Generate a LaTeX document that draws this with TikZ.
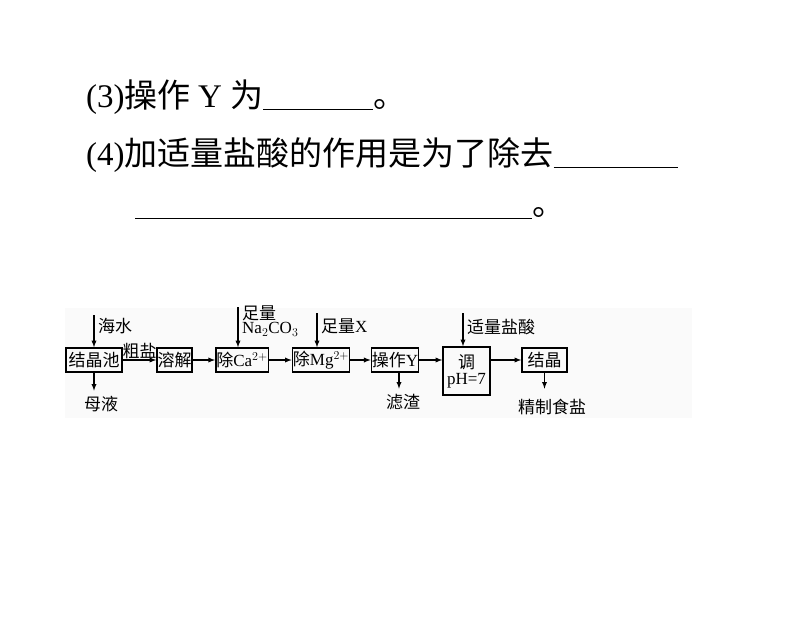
\documentclass[tikz,border=0pt]{standalone}
\usepackage{fontspec}
\setmainfont{Liberation Serif}
\newfontfamily\cjk{Noto Sans CJK SC}
\begin{document}
\begin{tikzpicture}[x=1pt,y=-1pt,
  bx/.style={draw,line width=1.4pt,minimum height=24pt,inner sep=0.5pt,font=\fontsize{17}{18}\selectfont},
  lb/.style={font=\fontsize{17}{18}\selectfont,inner sep=1pt},
  ar/.style={-latex,line width=1.3pt},
  big/.style={anchor=west,font=\fontsize{33}{35}\selectfont,inner sep=0pt}]
\useasboundingbox (0,0) rectangle (794,644);
\fill[black!2] (65,308) rectangle (692,418);
\node[big] (t3) at (86,97) {(3)\cjk 操作 \rmfamily Y \cjk 为\rule[-3pt]{110pt}{1pt}。};
\node[big] (t4) at (86,155) {(4)\cjk 加适量盐酸的作用是为了除去\rule[-3pt]{124pt}{1pt}};
\node[big] (t5) at (135,213) {\rule[-3pt]{397pt}{1pt}\cjk 。};
\node[bx,minimum width=56pt] (a) at (94,360) {\cjk 结晶池};
\node[bx,minimum width=35pt] (b) at (174.5,360) {\cjk 溶解};
\node[bx,minimum width=48pt] (c) at (242,360) {\cjk 除\rmfamily Ca$^{2+}$};
\node[bx,minimum width=52pt] (d) at (321,360) {\cjk 除\rmfamily Mg$^{2+}$};
\node[bx,minimum width=46pt] (e) at (395,360) {\cjk 操作\rmfamily Y};
\node[bx,minimum width=47pt,minimum height=48pt,align=center] (f) at (466.5,371) {\cjk 调\\[-2pt] \rmfamily pH=7};
\node[bx,minimum width=45pt] (g) at (544.5,360) {\cjk 结晶};
\draw[ar] (a) -- node[lb,above] {\cjk 粗盐} (b);
\draw[ar] (b) -- (c);
\draw[ar] (c) -- (d);
\draw[ar] (d) -- (e);
\draw[ar] (e) -- (e-|f.west);
\draw[ar] (g-|f.east) -- (g);
\coordinate (i1) at (94,315); \coordinate (i2) at (238,307);
\coordinate (i3) at (317,313); \coordinate (i4) at (463,313);
\draw[ar] (i1) -- (i1|-a.north);
\draw[ar] (i2) -- (i2|-c.north);
\draw[ar] (i3) -- (i3|-d.north);
\draw[ar] (i4) -- (i4|-f.north);
\node[lb,anchor=west] (l1) at (97,326) {\cjk 海水};
\node[lb,anchor=west,align=left] (l2) at (241,321) {\cjk 足量\\[-4pt] \rmfamily Na$_2$CO$_3$};
\node[lb,anchor=west] (l3) at (320,326) {\cjk 足量\rmfamily X};
\node[lb,anchor=west] (l4) at (466,327) {\cjk 适量盐酸};
\node[lb] (o1) at (101,404) {\cjk 母液};
\node[lb] (o2) at (403,402) {\cjk 滤渣};
\node[lb] (o3) at (552,407) {\cjk 精制食盐};
\draw[ar] (a.south) -- ++(0,18);
\draw[ar] (e.south) ++(4,0) -- ++(0,16);
\draw[ar] (g.south) -- ++(0,16);
\end{tikzpicture}
\end{document}
